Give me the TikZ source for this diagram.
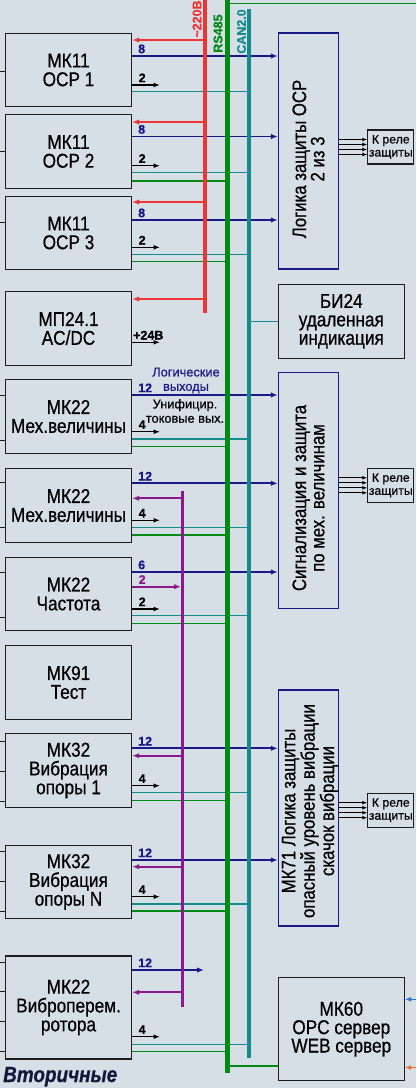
\documentclass[tikz,border=0pt]{standalone}
\usepackage{fontspec}
\setmainfont{Liberation Sans}[FakeStretch=0.86,FakeBold=0.6]
\newfontfamily\labf{Liberation Sans}[FakeBold=0.5]
\usetikzlibrary{arrows.meta,calc}
\definecolor{bgc}{RGB}{214,222,230}
\definecolor{navy}{RGB}{25,25,135}
\definecolor{rbus}{RGB}{238,52,52}
\definecolor{gbus}{RGB}{0,138,20}
\definecolor{tbus}{RGB}{20,140,140}
\definecolor{pbus}{RGB}{140,25,140}
\definecolor{boxc}{RGB}{30,30,30}
\definecolor{larrb}{RGB}{40,120,220}
\definecolor{larro}{RGB}{235,110,50}
\definecolor{vtc}{RGB}{20,25,60}
\begin{document}
\begin{tikzpicture}[x=1pt,y=-1pt,
  lbox/.style={draw=boxc, line width=1.4pt, fill=bgc, minimum width=126pt, minimum height=73.5pt, inner sep=0pt, align=center, font=\fontsize{20}{18.8}\selectfont},
  rbox/.style={draw=boxc, line width=1.4pt, fill=bgc, minimum width=126pt, inner sep=0pt, align=center, font=\fontsize{20}{18.4}\selectfont},
  logbox/.style={draw=navy, line width=1.4pt, fill=bgc, minimum width=60pt, minimum height=236pt, inner sep=0pt},
  rtext/.style={rotate=90, align=center, inner sep=0pt, font=\fontsize{19.5}{18.3}\selectfont},
  relbox/.style={draw=boxc, line width=1.1pt, fill=bgc, minimum width=46pt, minimum height=34pt, inner sep=0pt, align=center, font=\labf\fontsize{12.3}{13}\selectfont},
  lab/.style={inner sep=0pt, anchor=base west, font=\labf\bfseries\fontsize{12.5}{12}\selectfont},
  small/.style={inner sep=0pt, align=center, font=\labf\fontsize{12.8}{14.3}\selectfont},
  buslab/.style={inner sep=0pt, rotate=90, font=\labf\bfseries\fontsize{12.5}{12}\selectfont},
  navyarr/.style={draw=navy, line width=1.8pt, -{Latex[length=7pt,width=5.5pt]}},
  redarr/.style={draw=rbus, line width=2pt, -{Latex[length=7pt,width=5.5pt]}},
  purarr/.style={draw=pbus, line width=2pt, -{Latex[length=7pt,width=5.5pt]}},
  blkarr/.style={draw=black, line width=1.5pt, -{Latex[length=6.5pt,width=5pt]}},
  relarr/.style={draw=black, line width=1pt, -{Latex[length=5pt,width=4pt]}},
  tline/.style={draw=tbus, line width=1.2pt},
  gline/.style={draw=gbus, line width=1.2pt},
  stub/.style={draw=boxc, line width=1pt},
  busline/.style={line cap=butt}
]
\fill[bgc] (0,0) rectangle (416,1088);
\useasboundingbox (0,0) rectangle (416,1088);

% left modules
\node[lbox] (ocp1) at (68.5,70) {МК11\\ОСР 1};
\node[lbox] (ocp2) at (68.5,151.5) {МК11\\ОСР 2};
\node[lbox] (ocp3) at (68.5,233) {МК11\\ОСР 3};
\node[lbox] (mp) at (68.5,328.5) {МП24.1\\AC/DC};
\node[lbox] (mka) at (68.5,416.5) {МК22\\Мех.величины};
\node[lbox] (mkb) at (68.5,505.5) {МК22\\Мех.величины};
\node[lbox] (mkc) at (68.5,594) {МК22\\Частота};
\node[lbox] (mk91) at (68.5,682.5) {МК91\\Тест};
\node[lbox] (v1) at (68.5,770.5) {МК32\\Вибрация\\опоры 1};
\node[lbox] (vn) at (68.5,882) {МК32\\Вибрация\\опоры N};
\node[lbox, minimum height=103pt] (vr) at (68.5,1007.5) {МК22\\Виброперем.\\ротора};

% right blocks
\node[logbox] (logA) at (308.5,151) {};
\node[rtext] (logAt) at (308.5,159) {Логика защиты ОСР\\2 из 3};
\node[rbox, minimum height=74pt] (bi) at (341.3,321.3) {БИ24\\удаленная\\индикация};
\node[logbox] (logB) at (308.5,490.5) {};
\node[rtext] (logBt) at (308.5,498) {Сигнализация и защита\\по мех. величинам};
\node[logbox] (logC) at (308.5,808) {};
\node[rtext] (logCt) at (310,811) {МК71 Логика защиты\\опасный уровень вибрации\\скачок вибрации};
\node[rbox, minimum height=103pt] (mk60) at (341.3,1029.2) {МК60\\OPC сервер\\WEB сервер};

\node[relbox] (rel1) at (390.8,147) {К реле\\защиты};
\node[relbox] (rel2) at (390.8,485.3) {К реле\\защиты};
\node[relbox] (rel3) at (390.8,810.2) {К реле\\защиты};

% relay arrows
\foreach \lg/\rl/\c in {logA/rel1/147, logB/rel2/485.3, logC/rel3/810.2}
  \foreach \d in {-7.5,-2.5,2.5,7.5}
    \draw[relarr] (\lg.east |- 0,{\c+\d}) -- (\rl.west |- 0,{\c+\d});

% left stubs
\foreach \nm/\yy in {ocp1/71, ocp2/151, ocp3/222.7, mka/395, mka/440, mkb/482.3, mkb/527.7, mkc/572.7, mkc/617, v1/741.7, v1/771.7, v1/801.7, vn/851.7, vn/881.7, vn/911.7, vr/962.7, vr/991.7, vr/1021.7, vr/1051.7}
  \draw[stub] (\nm.west |- 0,\yy) -- (0,\yy);

% bus coordinates
\coordinate (Rt) at (205,0);   \coordinate (Rb) at (205,313);
\coordinate (Gt) at (227.5,0); \coordinate (Gb) at (227.5,1073);
\coordinate (Tt) at (249,9);   \coordinate (Tb) at (249,1058);
\coordinate (Pt) at (182.5,490.7); \coordinate (Pb) at (182.5,1007);
\coordinate (Gr) at (416,3.3);
\coordinate (vrend) at (204,970);

% teal (CAN) lines
\foreach \nm/\yy in {ocp1/91.7, ocp2/172.7, ocp3/254.3, mka/439, mkb/527.7, mkc/615.5, v1/792.7, vn/904, vr/1044.3}
  \draw[tline] (\nm.east |- 0,\yy) -- (Tt |- 0,\yy);
\draw[tline] (Tt |- bi.west) -- (bi.west);
% green (RS485) lines
\foreach \nm/\yy in {ocp2/181, ocp3/261.7, mka/446.7, mkb/535, mkc/623.3, v1/800.7, vn/911, vr/1051.7}
  \draw[gline] (\nm.east |- 0,\yy) -- (Gt |- 0,\yy);
\draw[gline] (Gt |- 0,1066) -- (mk60.west |- 0,1066);
\draw[gline, line width=1.5pt] (Gt |- Gr) -- (Gr);

% navy logic outputs
\foreach \nm/\yy/\tg in {ocp1/56/logA, ocp2/136.5/logA, ocp3/220/logA, mka/395/logB, mkb/483.3/logB, mkc/572/logB, v1/748.3/logC, vn/860/logC}
  \draw[navyarr] (\nm.east |- 0,\yy) -- (\tg.west |- 0,\yy);
\draw[navyarr] (vr.east |- vrend) -- (vrend);

% red power arrows
\foreach \nm/\yy in {ocp1/40, ocp2/122, ocp3/202, mp/299}
  \draw[redarr] (Rt |- 0,\yy) -- (\nm.east |- 0,\yy);

% black outputs
\foreach \nm/\yy in {ocp1/85, ocp2/165.7, ocp3/247.3, mp/342.3, mka/431.7, mkb/520.3, mkc/609, v1/785.7, vn/896.7, vr/1036.7}
  \draw[blkarr] (\nm.east |- 0,\yy) -- (160,\yy);

% purple
\foreach \nm/\yy in {mkb/498.3, v1/755.7, vn/866.7, vr/992.3}
  \draw[purarr] (Pt |- 0,\yy) -- (\nm.east |- 0,\yy);
\draw[purarr] (mkc.east |- 0,586.7) -- ([xshift=-1.5pt]Pt |- 0,586.7);

% buses
\draw[rbus, line width=4pt, busline] (Rt) -- (Rb);
\draw[gbus, line width=4.5pt, busline] (Gt) -- (Gb);
\draw[tbus, line width=3.2pt, busline] (Tt) -- (Tb);
\draw[pbus, line width=3.6pt, busline] (Pt) -- (Pb);

% bus labels
\node[buslab, text=rbus] (l220) at (197,19) {\textasciitilde220В};
\node[buslab, text=gbus] (lrs) at (218,33.5) {RS485};
\node[buslab, text=tbus] (lcan) at (241.5,31.5) {CAN2.0};

% number labels
\foreach \yy/\tx in {56/8, 136.5/8, 220/8, 395/12, 483.3/12, 572/6, 748.3/12, 860/12, 970/12}
  \node[lab, text=navy] at (138,\yy-2.8) {\tx};
\foreach \yy/\tx in {85/2, 165.7/2, 247.3/2, 431.7/4, 520.3/4, 609/2, 785.7/4, 896.7/4, 1036.7/4}
  \node[lab, text=black] at (138.5,\yy-2.8) {\tx};
\node[lab, text=pbus] (lp2) at (138.5,583.9) {2};
\node[lab, text=black] (l24) at (133,339.5) {+24В};

\node[small, text=navy] (llog) at (186,380.5) {Логические\\выходы};
\node[small, text=black] (luni) at (185,411) {Унифицир.\\токовые вых.};

% external arrows to MK60
\coordinate (ob) at (416,999.3);
\coordinate (oo) at (416,1067.5);
\draw[draw=larrb, line width=1.5pt, -{Latex[length=6pt,width=5pt]}] (ob) -- (mk60.east |- ob);
\draw[draw=larro, line width=1.5pt, -{Latex[length=6pt,width=5pt]}] (oo) -- (mk60.east |- oo);

\node[inner sep=0pt, anchor=base west, text=vtc, font=\bfseries\itshape\fontsize{22}{22}\selectfont] (vtor) at (3,1082) {Вторичные};
\end{tikzpicture}
\end{document}
